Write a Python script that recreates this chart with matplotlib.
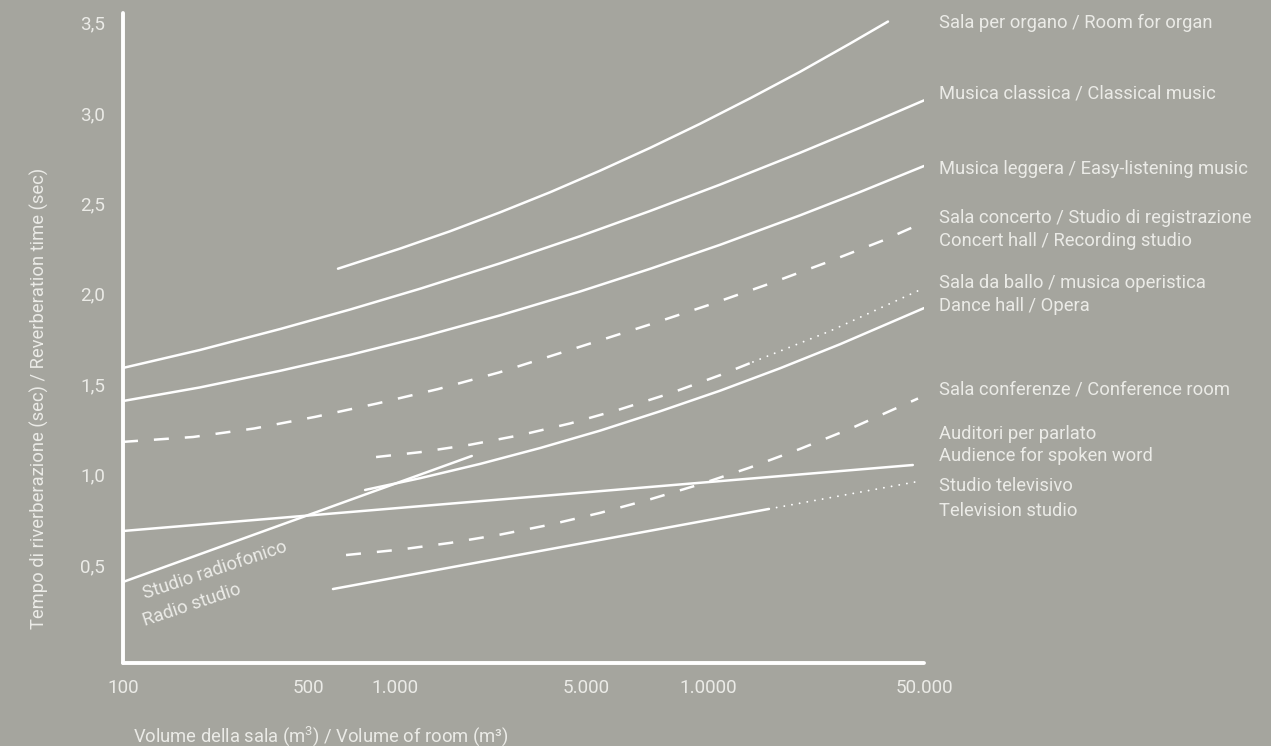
import numpy as np
import matplotlib
matplotlib.use("Agg")
import matplotlib.pyplot as plt
from matplotlib.ticker import FixedLocator, NullLocator

# ---------------- data (volume m3 -> reverberation time s) ----------------
organ_vol = [635, 1043, 1590, 2427, 3697, 5414, 7193, 9550, 13670, 19850, 28800, 38230]
organ_t = [2.139, 2.250, 2.346, 2.451, 2.562, 2.681, 2.807, 2.940, 3.081, 3.228, 3.384, 3.506]

classical_vol = [100, 195, 392, 699, 1235, 2427, 4761, 7193, 10940, 19850, 31030, 50000]
classical_t = [1.590, 1.689, 1.805, 1.913, 2.028, 2.169, 2.319, 2.458, 2.604, 2.780, 2.918, 3.070]

light_vol = [100, 195, 392, 699, 1235, 2427, 4761, 7193, 10940, 19850, 31030, 50000]
light_t = [1.407, 1.482, 1.574, 1.662, 1.759, 1.881, 2.013, 2.138, 2.271, 2.434, 2.563, 2.707]

concert_vol = [100, 184, 313, 528, 866, 1437, 2404, 4842, 7112, 9947, 15520, 23910, 36830, 47820]
concert_t = [1.181, 1.208, 1.255, 1.319, 1.393, 1.473, 1.565, 1.711, 1.827, 1.935, 2.051, 2.170, 2.295, 2.381]

opera_vol = [860, 1235, 1882, 2871, 4375, 6066, 8058, 10940, 13980]
opera_t = [1.097, 1.124, 1.165, 1.218, 1.283, 1.361, 1.449, 1.550, 1.623]
opera_ext_vol = [13980, 24830, 49000]
opera_ext_t = [1.623, 1.794, 2.025]

dance_vol = [788, 1235, 2048, 3398, 5414, 7613, 10940, 17100, 26740, 50000]
dance_t = [0.915, 0.980, 1.059, 1.147, 1.243, 1.350, 1.464, 1.588, 1.721, 1.921]

radio_vol = [100, 1910]
radio_t = [0.406, 1.103]

spoken_vol = [100, 46000]
spoken_t = [0.688, 1.053]

conference_vol = [677, 1043, 1590, 2427, 3697, 5414, 7193, 9550, 13670, 19850, 28800, 47820]
conference_t = [0.555, 0.585, 0.622, 0.668, 0.723, 0.788, 0.863, 0.946, 1.039, 1.142, 1.253, 1.421]

tv_vol = [610, 15750]
tv_t = [0.367, 0.810]
tv_ext_vol = [15750, 48900]
tv_ext_t = [0.810, 0.965]

x_ticks = [100, 500, 1000, 5000, 10000, 50000]
x_ticklabels = ["100", "500", "1.000", "5.000", "1.0000", "50.000"]
y_ticks = [0.5, 1.0, 1.5, 2.0, 2.5, 3.0, 3.5]
y_ticklabels = ["0,5", "1,0", "1,5", "2,0", "2,5", "3,0", "3,5"]

right_labels = [
    "Sala per organo / Room for organ",
    "Musica classica / Classical music",
    "Musica leggera / Easy-listening music",
    "Sala concerto / Studio di registrazione",
    "Concert hall / Recording studio",
    "Sala da ballo / musica operistica",
    "Dance hall / Opera",
    "Sala conferenze / Conference room",
    "Auditori per parlato",
    "Audience for spoken word",
    "Studio televisivo",
    "Television studio",
]
radio_labels = ["Studio radiofonico", "Radio studio"]
y_title = "Tempo di riverberazione (sec) / Reverberation time (sec)"
x_title = "Volume della sala (m$^3$) / Volume of room (m³)"

# ---------------- style ----------------
BG = "#a5a59e"
TXT = "#ebebe7"
W, H = 1271, 746
plt.rcParams["font.family"] = ["Roboto", "DejaVu Sans"]
plt.rcParams["mathtext.default"] = "regular"
plt.rcParams["lines.scale_dashes"] = False
FS = 13.2
FS_TICK = 13.6
WEIGHT = "normal"

fig = plt.figure(figsize=(W / 100, H / 100), dpi=100, facecolor=BG)


def fx(px):
    return px / W


def fy(py):
    return 1 - py / H


# axis frame (pixel layout of the reference)
ax_left, ax_right, ax_top, ax_bot = 123, 924, 12.7, 662.6
ax = fig.add_axes([fx(ax_left), fy(ax_bot), (ax_right - ax_left) / W, (ax_bot - ax_top) / H])
ax.set_facecolor(BG)

# the chart's own (hand-drawn, piecewise logarithmic) volume scale
_LOG_ANCH = np.log10(np.array(x_ticks, float))
_POS_ANCH = np.array([123, 308, 395, 586, 708, 924], float)


def _pw(x, xp, fp):
    x = np.asarray(x, float)
    y = np.interp(x, xp, fp)
    y = np.where(x < xp[0], fp[0] + (x - xp[0]) * (fp[1] - fp[0]) / (xp[1] - xp[0]), y)
    y = np.where(x > xp[-1], fp[-1] + (x - xp[-1]) * (fp[-1] - fp[-2]) / (xp[-1] - xp[-2]), y)
    return y


def _fwd(v):
    v = np.clip(np.asarray(v, float), 1e-9, None)
    return _pw(np.log10(v), _LOG_ANCH, _POS_ANCH)


def _inv(p):
    return 10 ** _pw(p, _POS_ANCH, _LOG_ANCH)


ax.set_xscale("function", functions=(_fwd, _inv))
ax.set_xlim(100, 50000)
ax.set_ylim(-0.04, 3.555)

LW = 1.8
solid = dict(color="white", lw=LW, solid_capstyle="round", solid_joinstyle="round")
dashed = dict(color="white", lw=LW, linestyle=(0, (10.8, 11.5)), dash_capstyle="butt")
dotted = dict(color="white", lw=1.4, linestyle=(0, (0.01, 5.6)), dash_capstyle="round")

ax.plot(organ_vol, organ_t, **solid)
ax.plot(classical_vol, classical_t, **solid)
ax.plot(light_vol, light_t, **solid)
ax.plot(concert_vol, concert_t, **dashed)
ax.plot(opera_vol, opera_t, **dashed)
ax.plot(opera_ext_vol, opera_ext_t, **dotted)
ax.plot(dance_vol, dance_t, **solid)
ax.plot(radio_vol, radio_t, **solid)
ax.plot(spoken_vol, spoken_t, **solid)
ax.plot(conference_vol, conference_t, **dashed)
ax.plot(tv_vol, tv_t, **solid)
ax.plot(tv_ext_vol, tv_ext_t, **dotted)

for s in ["top", "right"]:
    ax.spines[s].set_visible(False)
for s in ["left", "bottom"]:
    ax.spines[s].set_color("white")
    ax.spines[s].set_linewidth(2.8)
    ax.spines[s].set_capstyle("round")

ax.xaxis.set_major_locator(FixedLocator(x_ticks))
ax.xaxis.set_minor_locator(NullLocator())
ax.set_xticklabels(x_ticklabels)
ax.set_yticks(y_ticks)
ax.set_yticklabels(y_ticklabels)
ax.tick_params(axis="both", length=0, labelsize=FS_TICK, labelcolor=TXT)
ax.tick_params(axis="x", pad=12)
ax.tick_params(axis="y", pad=13)
for t in ax.get_xticklabels() + ax.get_yticklabels():
    t.set_fontweight(WEIGHT)

# right-hand labels
label_y = [23, 94, 169, 218, 241, 283, 306, 389, 434, 456, 486, 511]
for txt, py in zip(right_labels, label_y):
    fig.text(fx(939), fy(py), txt, ha="left", va="center", fontsize=FS,
             color=TXT, fontweight=WEIGHT)

# rotated radio-studio labels
for txt, (px, py) in zip(radio_labels, [(145, 599), (145, 626)]):
    fig.text(fx(px), fy(py), txt, ha="left", va="baseline", rotation=18.5,
             rotation_mode="anchor", fontsize=FS, color=TXT, fontweight=WEIGHT)

fig.text(fx(39), fy(398), y_title, rotation=90, ha="center", va="center",
         fontsize=FS, color=TXT, fontweight=WEIGHT)
fig.text(fx(133), fy(736), x_title, ha="left", va="center",
         fontsize=FS, color=TXT, fontweight=WEIGHT)

fig.savefig("out.png", dpi=100, facecolor=BG)
